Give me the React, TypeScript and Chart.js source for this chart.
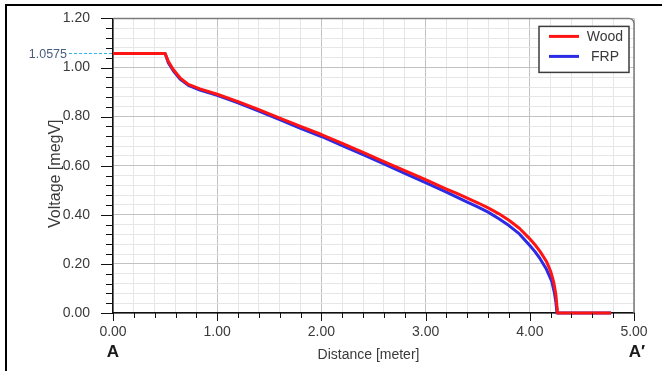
import { useEffect, useRef } from "react";
import { Chart, registerables } from "chart.js";

Chart.register(...registerables);

// ---- data ----
const woodDistance = [0, 0.5, 0.53, 0.58, 0.643, 0.723, 0.834, 1.0, 1.2, 1.4, 1.6, 1.8, 2.0, 2.2, 2.4, 2.6, 2.8, 3.0, 3.2, 3.3, 3.4, 3.5, 3.6, 3.7, 3.8, 3.9, 4.0, 4.05, 4.1, 4.16, 4.2, 4.23, 4.25, 4.26, 4.265, 4.78];
const woodVoltage = [1.0575, 1.0575, 1.025, 0.991, 0.958, 0.931, 0.913, 0.891, 0.861, 0.828, 0.794, 0.76, 0.727, 0.691, 0.654, 0.617, 0.58, 0.543, 0.505, 0.487, 0.468, 0.449, 0.428, 0.405, 0.378, 0.345, 0.302, 0.278, 0.25, 0.21, 0.17, 0.125, 0.075, 0.03, 0, 0];

const frpDistance = [0, 0.5, 0.53, 0.58, 0.643, 0.723, 0.834, 1.0, 1.2, 1.4, 1.6, 1.8, 2.0, 2.2, 2.4, 2.6, 2.8, 3.0, 3.2, 3.3, 3.4, 3.5, 3.6, 3.7, 3.8, 3.9, 4.0, 4.05, 4.1, 4.16, 4.21, 4.235, 4.25, 4.256, 4.26, 4.78];
const frpVoltage = [1.0575, 1.0575, 1.02, 0.986, 0.953, 0.927, 0.908, 0.887, 0.856, 0.822, 0.788, 0.752, 0.719, 0.682, 0.645, 0.607, 0.569, 0.531, 0.492, 0.472, 0.452, 0.432, 0.411, 0.385, 0.356, 0.322, 0.275, 0.25, 0.22, 0.178, 0.13, 0.085, 0.045, 0.02, 0, 0];

const seriesLabels = ["Wood", "FRP"];
const referenceVoltage = 1.0575;
const referenceLabel = "1.0575";
const xTitle = "Distance [meter]";
const yTitle = "Voltage [megV]";
const startLabel = "A";
const endLabel = "A\u2032";

const xMin = 0, xMax = 5, xMinorStep = 0.2, xMajorStep = 1;
const yMin = 0, yMax = 1.2, yMinorStep = 0.04, yMajorStep = 0.2;

const xTickValues: number[] = [];
for (let i = 0; i <= Math.round((xMax - xMin) / xMinorStep); i++) xTickValues.push(Math.round((xMin + i * xMinorStep) * 1e4) / 1e4);
const yTickValues: number[] = [];
for (let i = 0; i <= Math.round((yMax - yMin) / yMinorStep); i++) yTickValues.push(Math.round((yMin + i * yMinorStep) * 1e4) / 1e4);

const FONT = "'Liberation Sans', Arial, Helvetica, sans-serif";
const TEXT = "#3a3a3a";
const RED = "#ff1414";
const BLUE = "#2b2be6";

const isMajor = (v: number, step: number) => Math.abs(v / step - Math.round(v / step)) < 1e-6;

const decor = {
  id: "decor",
  afterDraw(chart: any) {
    const { ctx, chartArea, scales } = chart;
    const { left, right, top, bottom } = chartArea;
    const xs = scales.x, ys = scales.y;
    ctx.save();

    // tick marks
    ctx.strokeStyle = "#111";
    ctx.lineWidth = 1;
    ctx.beginPath();
    for (const t of ys.ticks) {
      const y = Math.round(ys.getPixelForValue(t.value)) + 0.5;
      const len = isMajor(t.value, yMajorStep) ? 12 : 7;
      ctx.moveTo(left - len, y);
      ctx.lineTo(left, y);
    }
    for (const t of xs.ticks) {
      const x = Math.round(xs.getPixelForValue(t.value)) + 0.5;
      const len = isMajor(t.value, xMajorStep) ? 8 : 5;
      ctx.moveTo(x, bottom);
      ctx.lineTo(x, bottom + len);
    }
    ctx.stroke();

    // plot frame (top & right, rounded corner)
    const r = 5;
    ctx.strokeStyle = "#7c7c7c";
    ctx.lineWidth = 1.5;
    ctx.beginPath();
    ctx.moveTo(left, top);
    ctx.lineTo(right - r, top);
    ctx.arcTo(right, top, right, top + r, r);
    ctx.lineTo(right, bottom);
    ctx.stroke();

    // reference level
    const yRef = ys.getPixelForValue(referenceVoltage);
    ctx.strokeStyle = "#2fb6ea";
    ctx.lineWidth = 1;
    ctx.setLineDash([3, 2]);
    ctx.beginPath();
    ctx.moveTo(69, Math.round(yRef) + 0.5);
    ctx.lineTo(left, Math.round(yRef) + 0.5);
    ctx.stroke();
    ctx.setLineDash([]);
    ctx.fillStyle = "#4a5d7c";
    ctx.font = `12.5px ${FONT}`;
    ctx.textAlign = "right";
    ctx.textBaseline = "middle";
    ctx.fillText(referenceLabel, 67, yRef + 1.5);

    // A / A'
    ctx.fillStyle = "#1a1a1a";
    ctx.font = `bold 17px ${FONT}`;
    ctx.textAlign = "center";
    ctx.fillText(startLabel, xs.getPixelForValue(xMin), 352);
    ctx.fillText(endLabel, xs.getPixelForValue(xMax) + 3, 352);

    // axis titles
    ctx.fillStyle = TEXT;
    ctx.font = `14px ${FONT}`;
    ctx.fillText(xTitle, (left + right) / 2 - 5, 355);
    ctx.save();
    ctx.translate(56, (top + bottom) / 2 + 8);
    ctx.rotate(-Math.PI / 2);
    ctx.font = `16px ${FONT}`;
    ctx.fillText(yTitle, 0, 0);
    ctx.restore();

    // legend
    const bx = right - 95, by = top + 8, bw = 90, bh = 46;
    ctx.fillStyle = "#fff";
    ctx.fillRect(bx, by, bw, bh);
    ctx.strokeStyle = "#3c3c3c";
    ctx.lineWidth = 1.5;
    ctx.strokeRect(bx, by, bw, bh);
    const colors = chart.data.datasets.map((d: any) => d.borderColor);
    const rows = [by + 10, by + 30];
    ctx.lineWidth = 3;
    ctx.font = `14px ${FONT}`;
    ctx.textBaseline = "middle";
    rows.forEach((ry, i) => {
      ctx.strokeStyle = colors[i];
      ctx.beginPath();
      ctx.moveTo(bx + 10, ry);
      ctx.lineTo(bx + 40, ry);
      ctx.stroke();
      ctx.fillStyle = TEXT;
      ctx.textAlign = "center";
      ctx.fillText(seriesLabels[i], bx + 66, ry + 1);
    });

    ctx.restore();
  },
};

export default function App() {
  const ref = useRef<HTMLCanvasElement>(null);
  useEffect(() => {
    const canvas = ref.current!;
    const chart = new Chart(canvas, {
      type: "line",
      data: {
        datasets: [
          {
            label: seriesLabels[0],
            data: woodDistance.map((x, i) => ({ x, y: woodVoltage[i] })),
            borderColor: RED,
            backgroundColor: RED,
            borderWidth: 3,
            pointRadius: 0,
            tension: 0,
            borderJoinStyle: "round",
            clip: false,
          },
          {
            label: seriesLabels[1],
            data: frpDistance.map((x, i) => ({ x, y: frpVoltage[i] })),
            borderColor: BLUE,
            backgroundColor: BLUE,
            borderWidth: 3,
            pointRadius: 0,
            tension: 0,
            borderJoinStyle: "round",
            clip: false,
          },
        ],
      },
      options: {
        responsive: false,
        animation: false,
        layout: { padding: { top: 15, right: 28, left: 0, bottom: 0 } },
        plugins: { legend: { display: false }, tooltip: { enabled: false } },
        scales: {
          x: {
            type: "linear",
            min: xMin,
            max: xMax,
            afterBuildTicks: (s: any) => {
              s.ticks = xTickValues.map((v) => ({ value: v }));
            },
            afterFit: (s: any) => {
              s.height = 58;
            },
            ticks: {
              autoSkip: false,
              maxRotation: 0,
              minRotation: 0,
              padding: 3,
              color: TEXT,
              font: { family: FONT, size: 14 },
              callback: (v: any) => (isMajor(Number(v), xMajorStep) ? Number(v).toFixed(2) : ""),
            },
            grid: {
              color: (c: any) => (c.tick && isMajor(c.tick.value, xMajorStep) ? "#c2c2c2" : "#e6e6e6"),
              lineWidth: 1,
              tickLength: 8,
              tickColor: "rgba(0,0,0,0)",
            },
            border: { color: "#111", width: 1.5 },
          },
          y: {
            type: "linear",
            min: yMin,
            max: yMax,
            afterBuildTicks: (s: any) => {
              s.ticks = yTickValues.map((v) => ({ value: v }));
            },
            afterFit: (s: any) => {
              s.width = 113;
            },
            ticks: {
              autoSkip: false,
              padding: 10,
              color: TEXT,
              font: { family: FONT, size: 14 },
              callback: (v: any) => (isMajor(Number(v), yMajorStep) ? Number(v).toFixed(2) : ""),
            },
            grid: {
              color: (c: any) => (c.tick && isMajor(c.tick.value, yMajorStep) ? "#c2c2c2" : "#e6e6e6"),
              lineWidth: 1,
              tickLength: 13,
              tickColor: "rgba(0,0,0,0)",
            },
            border: { color: "#111", width: 1.5 },
          },
        },
      },
      plugins: [decor],
    } as any);
    return () => chart.destroy();
  }, []);

  return (
    <div style={{ position: "fixed", left: 0, top: 0, width: 662, height: 371, background: "#fff", overflow: "hidden" }}>
      <canvas ref={ref} width={662} height={371} style={{ display: "block", width: 662, height: 371 }} />
      <div style={{ position: "absolute", left: 5, top: 4, width: 2, height: 367, background: "#000" }} />
      <div style={{ position: "absolute", left: 5, top: 4, width: 657, height: 2, background: "#000" }} />
    </div>
  );
}
